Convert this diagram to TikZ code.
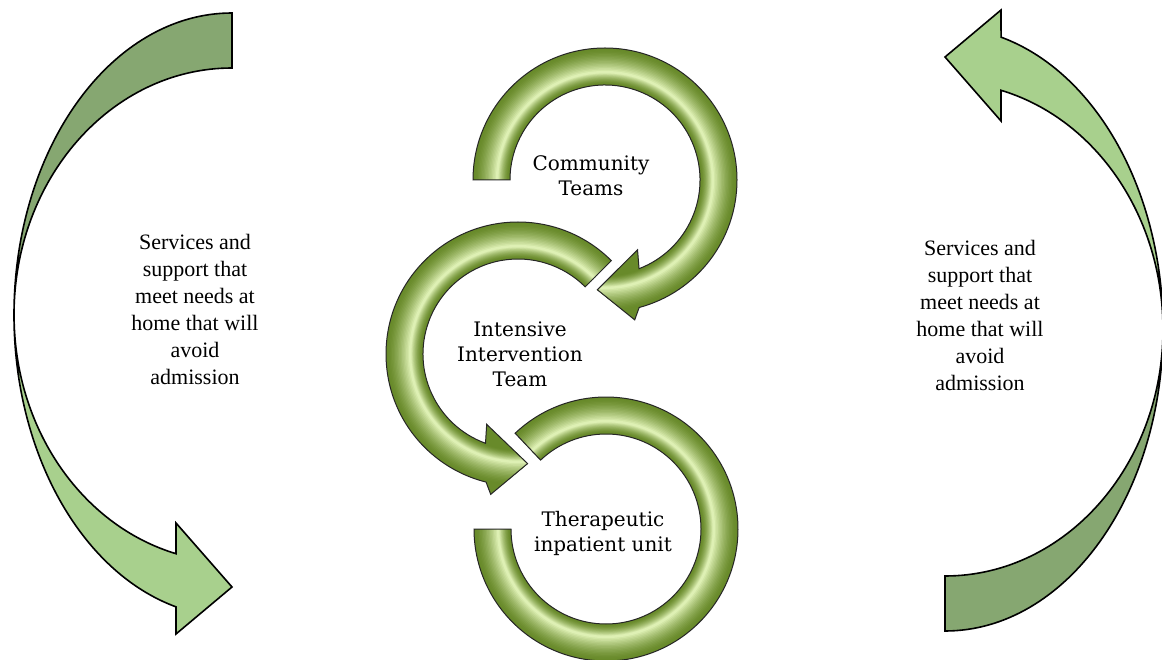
\documentclass[tikz,border=0pt]{standalone}
\usepackage{fontspec}
\setmainfont{Liberation Serif}
\newfontfamily\ringfont{DejaVu Serif}
\usetikzlibrary{calc}
\definecolor{sidedark}{RGB}{134,167,113}
\definecolor{sidelight}{RGB}{168,208,141}
\definecolor{ringA}{RGB}{104,138,42}
\definecolor{ringE}{RGB}{222,240,180}
\tikzset{
  sidearrow/.style={draw=black, line width=1.6pt, line join=miter},
  sidetext/.style={align=center, font=\fontsize{22}{27}\selectfont, inner sep=0pt},
  ringtext/.style={align=center, font=\ringfont\fontsize{20}{25}\selectfont, inner sep=0pt},
  ringline/.style={draw=black!85, line width=1pt, line join=miter},
  headring/.style n args={4}{insert path={
    ($(#1)+(#2:132)$) arc[start angle=#2, end angle={#3+3*(#4)}, radius=132]
    -- ($(#1)+({#3+6*(#4)}:143)$)
    -- ($(#1)+({#3+22*(#4)}:110)$)
    -- ($(#1)+({#3-7*(#4)}:77)$)
    -- ($(#1)+({#3-3*(#4)}:95)$)
    arc[start angle={#3-3*(#4)}, end angle=#2, radius=95] -- cycle}},
  plainring/.style n args={3}{insert path={
    ($(#1)+(#2:132)$) arc[start angle=#2, end angle=#3, radius=132]
    -- ($(#1)+(#3:95)$)
    arc[start angle=#3, end angle=#2, radius=95] -- cycle}},
}
\newcommand\glossyring[4]{%
  \begin{scope}
    \clip[#2];
    \fill[ringA, #2];
    \foreach \i in {0,...,16}{%
      \pgfmathsetmacro\lw{36-2.1*\i}%
      \pgfmathsetmacro\rr{113.5-0.35*\i}%
      \pgfmathsetmacro\mx{100*(\i/16)^1.5}%
      \draw[color=ringE!\mx!ringA, line width=\lw pt]
        ($(#1)+(#3:\rr)$) arc[start angle=#3, end angle=#4, radius=\rr];
    }
  \end{scope}
  \draw[ringline, #2];
}
\begin{document}
\begin{tikzpicture}[x=1pt, y=-1pt]
\fill[white] (0,0) rectangle (1162,660);
\useasboundingbox (0,0) rectangle (1162,660);

% left curved arrow
\filldraw[sidearrow, fill=sidedark] (232,13)
  arc[start angle=-90, end angle=-180, x radius=218, y radius=302]
  arc[start angle=180, end angle=270, x radius=218, y radius=247] -- cycle;
\filldraw[sidearrow, fill=sidelight] (14,315)
  arc[start angle=180, end angle=104.9, x radius=218, y radius=302]
  -- (176,634) -- (232,587) -- (176,523) -- (176,553.7)
  arc[start angle=104.9, end angle=180, x radius=218, y radius=247] -- cycle;

% right curved arrow
\begin{scope}[rotate around={180:(588.5,322)}]
\filldraw[sidearrow, fill=sidedark] (232,13)
  arc[start angle=-90, end angle=-180, x radius=218, y radius=302]
  arc[start angle=180, end angle=270, x radius=218, y radius=247] -- cycle;
\filldraw[sidearrow, fill=sidelight] (14,315)
  arc[start angle=180, end angle=104.9, x radius=218, y radius=302]
  -- (176,634) -- (232,587) -- (176,523) -- (176,553.7)
  arc[start angle=104.9, end angle=180, x radius=218, y radius=247] -- cycle;
\end{scope}

% central rings
\coordinate (c1) at (605,180);
\coordinate (c2) at (518,354);
\coordinate (c3) at (606,529);
\glossyring{c1}{headring={c1}{-180}{72}{1}}{-180}{94}
\glossyring{c2}{headring={c2}{-45}{-253}{-1}}{-45}{-275}
\glossyring{c3}{plainring={c3}{-133.5}{180}}{-133.5}{180}

% texts
\node[sidetext] (lt) at (195,309) {Services and\\support that\\meet needs at\\home that will\\avoid\\admission};
\node[sidetext] (rt) at (980,315) {Services and\\support that\\meet needs at\\home that will\\avoid\\admission};
\node[ringtext] (ct) at (591,176) {Community\\Teams};
\node[ringtext] (it) at (520,354) {Intensive\\Intervention\\Team};
\node[ringtext] (tt) at (603,533) {Therapeutic\\inpatient unit};
\end{tikzpicture}
\end{document}
